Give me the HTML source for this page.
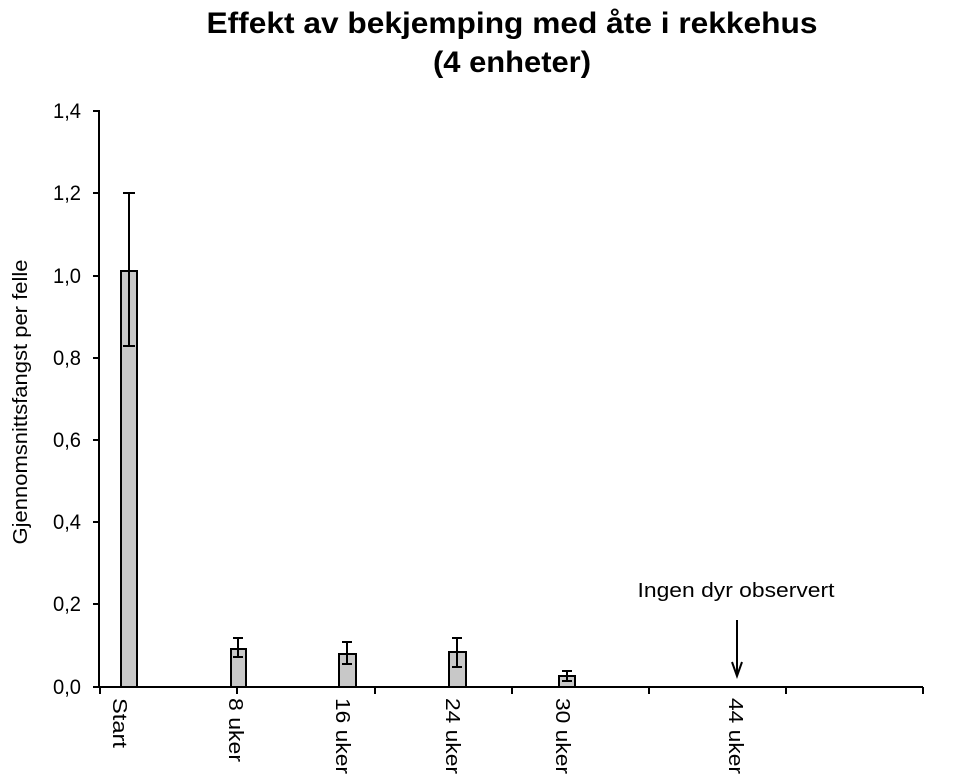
<!DOCTYPE html>
<html><head><meta charset="utf-8"><style>body{margin:0;background:#fff}</style></head><body>
<svg width="970" height="778" xmlns="http://www.w3.org/2000/svg" font-family="Liberation Sans, Arial, sans-serif">
<rect width="970" height="778" fill="#fff"/>
<text x="512" y="33" font-size="30" font-weight="bold" text-anchor="middle" textLength="611" lengthAdjust="spacingAndGlyphs">Effekt av bekjemping med åte i rekkehus</text>
<text x="512" y="72" font-size="30" font-weight="bold" text-anchor="middle" textLength="158" lengthAdjust="spacingAndGlyphs">(4 enheter)</text>
<text transform="translate(27,402) rotate(-90)" font-size="20" text-anchor="middle" textLength="285" lengthAdjust="spacingAndGlyphs">Gjennomsnittsfangst per felle</text>
<g stroke="#000" stroke-width="2" fill="none">
<line x1="99" y1="110" x2="99" y2="688"/>
<line x1="99" y1="687" x2="923" y2="687"/>
<line x1="93" y1="111" x2="99" y2="111"/>
<line x1="93" y1="193" x2="99" y2="193"/>
<line x1="93" y1="276" x2="99" y2="276"/>
<line x1="93" y1="358" x2="99" y2="358"/>
<line x1="93" y1="440" x2="99" y2="440"/>
<line x1="93" y1="522" x2="99" y2="522"/>
<line x1="93" y1="604" x2="99" y2="604"/>
<line x1="93" y1="687" x2="99" y2="687"/>
<line x1="100" y1="687" x2="100" y2="694"/>
<line x1="237" y1="687" x2="237" y2="694"/>
<line x1="375" y1="687" x2="375" y2="694"/>
<line x1="512" y1="687" x2="512" y2="694"/>
<line x1="649" y1="687" x2="649" y2="694"/>
<line x1="786" y1="687" x2="786" y2="694"/>
<line x1="923" y1="687" x2="923" y2="694"/>
</g>
<g font-size="21" text-anchor="end">
<text x="81" y="118" textLength="28" lengthAdjust="spacingAndGlyphs">1,4</text><text x="81" y="200" textLength="28" lengthAdjust="spacingAndGlyphs">1,2</text><text x="81" y="283" textLength="28" lengthAdjust="spacingAndGlyphs">1,0</text>
<text x="81" y="365" textLength="28" lengthAdjust="spacingAndGlyphs">0,8</text><text x="81" y="447" textLength="28" lengthAdjust="spacingAndGlyphs">0,6</text><text x="81" y="529" textLength="28" lengthAdjust="spacingAndGlyphs">0,4</text>
<text x="81" y="611" textLength="28" lengthAdjust="spacingAndGlyphs">0,2</text><text x="81" y="694" textLength="28" lengthAdjust="spacingAndGlyphs">0,0</text>
</g>
<g fill="#c8c8c8" stroke="#000" stroke-width="2">
<rect x="121" y="271" width="16" height="416"/>
<rect x="231" y="649" width="15" height="38"/>
<rect x="339" y="654" width="17" height="33"/>
<rect x="449" y="652" width="17" height="35"/>
<rect x="559" y="676" width="16" height="11"/>
</g>
<g stroke="#000" stroke-width="2">
<line x1="129" y1="193" x2="129" y2="346"/><line x1="123" y1="193" x2="135" y2="193"/><line x1="123" y1="346" x2="135" y2="346"/>
<line x1="238" y1="638" x2="238" y2="657"/><line x1="233" y1="638" x2="243" y2="638"/><line x1="233" y1="657" x2="243" y2="657"/>
<line x1="347" y1="642" x2="347" y2="664"/><line x1="342" y1="642" x2="352" y2="642"/><line x1="342" y1="664" x2="352" y2="664"/>
<line x1="457" y1="638" x2="457" y2="667"/><line x1="452" y1="638" x2="462" y2="638"/><line x1="452" y1="667" x2="462" y2="667"/>
<line x1="567" y1="671" x2="567" y2="681"/><line x1="562" y1="671" x2="572" y2="671"/><line x1="562" y1="681" x2="572" y2="681"/>
<line x1="737" y1="620" x2="737" y2="675"/>
<polyline points="732,662 737,676 742,662" fill="none"/>
</g>
<text x="736" y="597" font-size="20" text-anchor="middle" textLength="197" lengthAdjust="spacingAndGlyphs">Ingen dyr observert</text>
<g font-size="20">
<text transform="translate(113,698) rotate(90)" textLength="50" lengthAdjust="spacingAndGlyphs">Start</text>
<text transform="translate(229,698) rotate(90)" textLength="64" lengthAdjust="spacingAndGlyphs">8 uker</text>
<text transform="translate(336,698) rotate(90)" textLength="76" lengthAdjust="spacingAndGlyphs">16 uker</text>
<text transform="translate(446,698) rotate(90)" textLength="76" lengthAdjust="spacingAndGlyphs">24 uker</text>
<text transform="translate(556,698) rotate(90)" textLength="76" lengthAdjust="spacingAndGlyphs">30 uker</text>
<text transform="translate(729,698) rotate(90)" textLength="76" lengthAdjust="spacingAndGlyphs">44 uker</text>
</g>
</svg>
</body></html>
